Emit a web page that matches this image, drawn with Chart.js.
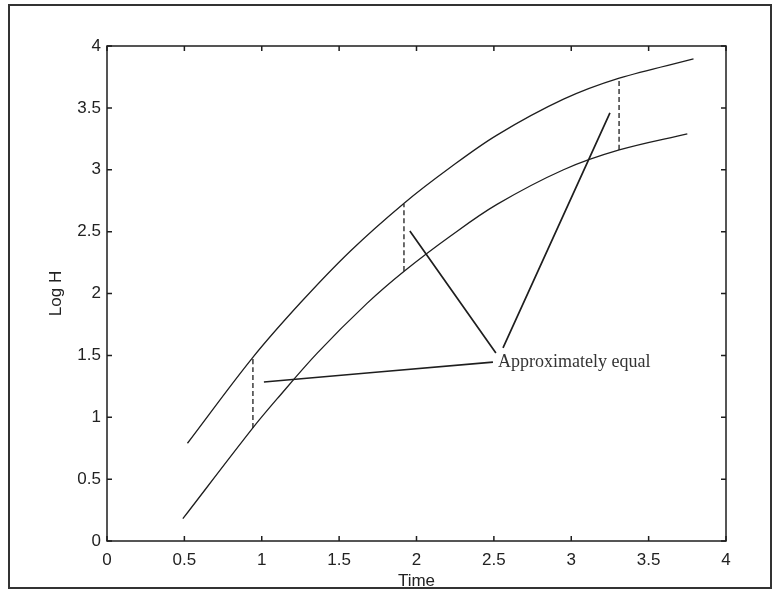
<!DOCTYPE html>
<html>
<head>
<meta charset="utf-8">
<title>Log H vs Time</title>
<script src="https://cdn.jsdelivr.net/npm/chart.js@4.4.1/dist/chart.umd.min.js"></script>
<style>
    html, body { margin: 0; padding: 0; background: #fff; }
    #wrap { position: relative; width: 777px; height: 594px; }
    #frame {
        position: absolute; left: 8px; top: 4px; width: 764px; height: 585px;
        box-sizing: border-box; border: 2px solid #333; pointer-events: none;
    }
    canvas { position: absolute; left: 0; top: 0; }
</style>
</head>
<body>
<div id="wrap">
    <canvas id="chart" width="777" height="594"></canvas>
    <div id="frame"></div>
</div>
<script>
// --- Data ---
// Upper curve
const upperTime = [0.52, 0.94, 1.25, 1.57, 1.92, 2.22, 2.52, 2.95, 3.31, 3.79];
const upperLogH = [0.79, 1.48, 1.925, 2.34, 2.73, 3.02, 3.28, 3.57, 3.74, 3.895];

// Lower curve
const lowerTime = [0.49, 0.94, 1.10, 1.36, 1.68, 1.92, 2.22, 2.52, 2.95, 3.31, 3.75];
const lowerLogH = [0.18, 0.91, 1.15, 1.52, 1.92, 2.18, 2.465, 2.72, 3.0, 3.16, 3.29];

// Dashed vertical gaps between the curves: time, bottom, top
const gapTime = [0.943, 1.919, 3.309];
const gapLow  = [0.913, 2.18, 3.16];
const gapHigh = [1.479, 2.723, 3.74];

// Pointer lines toward the annotation: [start, end] for time and log H
const pointerTime = [[1.014, 2.494], [1.957, 2.513], [2.559, 3.25]];
const pointerLogH = [[1.285, 1.446], [2.505, 1.519], [1.56, 3.46]];

// Annotation
const noteText = 'Approximately equal';
const noteTime = 2.527;
const noteLogH = 1.446;

// Axes
const xTickValues = [0, 0.5, 1, 1.5, 2, 2.5, 3, 3.5, 4];
const xTickLabels = ['0', '0.5', '1', '1.5', '2', '2.5', '3', '3.5', '4'];
const yTickValues = [0, 0.5, 1, 1.5, 2, 2.5, 3, 3.5, 4];
const yTickLabels = ['0', '0.5', '1', '1.5', '2', '2.5', '3', '3.5', '4'];

// --- Helpers ---
const INK = '#1e1e1e';
const toPoints = (xs, ys) => xs.map((x, i) => ({ x: x, y: ys[i] }));

function lineSet(points, width, dash) {
    return {
        data: points,
        showLine: true,
        borderColor: INK,
        borderWidth: width,
        borderDash: dash || [],
        pointRadius: 0,
        fill: false,
        tension: 0.35
    };
}

const datasets = [
    lineSet(toPoints(upperTime, upperLogH), 1.3),
    lineSet(toPoints(lowerTime, lowerLogH), 1.3)
];
gapTime.forEach((t, i) => {
    datasets.push(lineSet([{ x: t, y: gapLow[i] }, { x: t, y: gapHigh[i] }], 1.3, [5, 3]));
});
pointerTime.forEach((ts, i) => {
    datasets.push(lineSet(toPoints(ts, pointerLogH[i]), 1.7));
});

// --- Plugin: box with inward ticks on all sides, plus the annotation text ---
const boxPlugin = {
    id: 'box',
    afterDatasetsDraw(chart) {
        const { ctx, chartArea: a, scales } = chart;
        const tick = 5;
        ctx.save();
        ctx.strokeStyle = INK;
        ctx.lineWidth = 1.5;
        ctx.strokeRect(a.left, a.top, a.right - a.left, a.bottom - a.top);
        ctx.beginPath();
        xTickValues.forEach(v => {
            const px = scales.x.getPixelForValue(v);
            ctx.moveTo(px, a.bottom); ctx.lineTo(px, a.bottom - tick);
            ctx.moveTo(px, a.top); ctx.lineTo(px, a.top + tick);
        });
        yTickValues.forEach(v => {
            const py = scales.y.getPixelForValue(v);
            ctx.moveTo(a.left, py); ctx.lineTo(a.left + tick, py);
            ctx.moveTo(a.right, py); ctx.lineTo(a.right - tick, py);
        });
        ctx.stroke();

        ctx.fillStyle = '#333';
        ctx.font = '18px "Liberation Serif", "Times New Roman", serif';
        ctx.textAlign = 'left';
        ctx.textBaseline = 'middle';
        ctx.fillText(noteText, scales.x.getPixelForValue(noteTime), scales.y.getPixelForValue(noteLogH));
        ctx.restore();
    }
};

const tickFont = { family: '"Liberation Sans", Arial, sans-serif', size: 17 };

// --- Chart ---
new Chart(document.getElementById('chart'), {
    type: 'scatter',
    data: { datasets: datasets },
    plugins: [boxPlugin],
    options: {
        responsive: false,
        animation: false,
        devicePixelRatio: 1,
        layout: { padding: { left: 0, top: 46, right: 51, bottom: 0 } },
        plugins: { legend: { display: false }, tooltip: { enabled: false } },
        scales: {
            x: {
                type: 'linear', min: 0, max: 4,
                afterBuildTicks: s => { s.ticks = xTickValues.map(v => ({ value: v })); },
                afterFit: s => { s.height = 53; },
                grid: { display: false, drawTicks: false },
                border: { display: false },
                ticks: {
                    color: '#222', font: tickFont, padding: 9, maxRotation: 0,
                    callback: (v, i) => xTickLabels[i]
                },
                title: {
                    display: true, text: 'Time', color: '#222', font: tickFont,
                    padding: { top: 0, bottom: 2 }
                }
            },
            y: {
                type: 'linear', min: 0, max: 4,
                afterBuildTicks: s => { s.ticks = yTickValues.map(v => ({ value: v })); },
                afterFit: s => { s.width = 107; },
                grid: { display: false, drawTicks: false },
                border: { display: false },
                ticks: {
                    color: '#222', font: tickFont, padding: 6,
                    callback: (v, i) => yTickLabels[i]
                },
                title: {
                    display: true, text: 'Log H', color: '#222', font: tickFont,
                    padding: { top: 46, bottom: 0 }
                }
            }
        }
    }
});
</script>
</body>
</html>
